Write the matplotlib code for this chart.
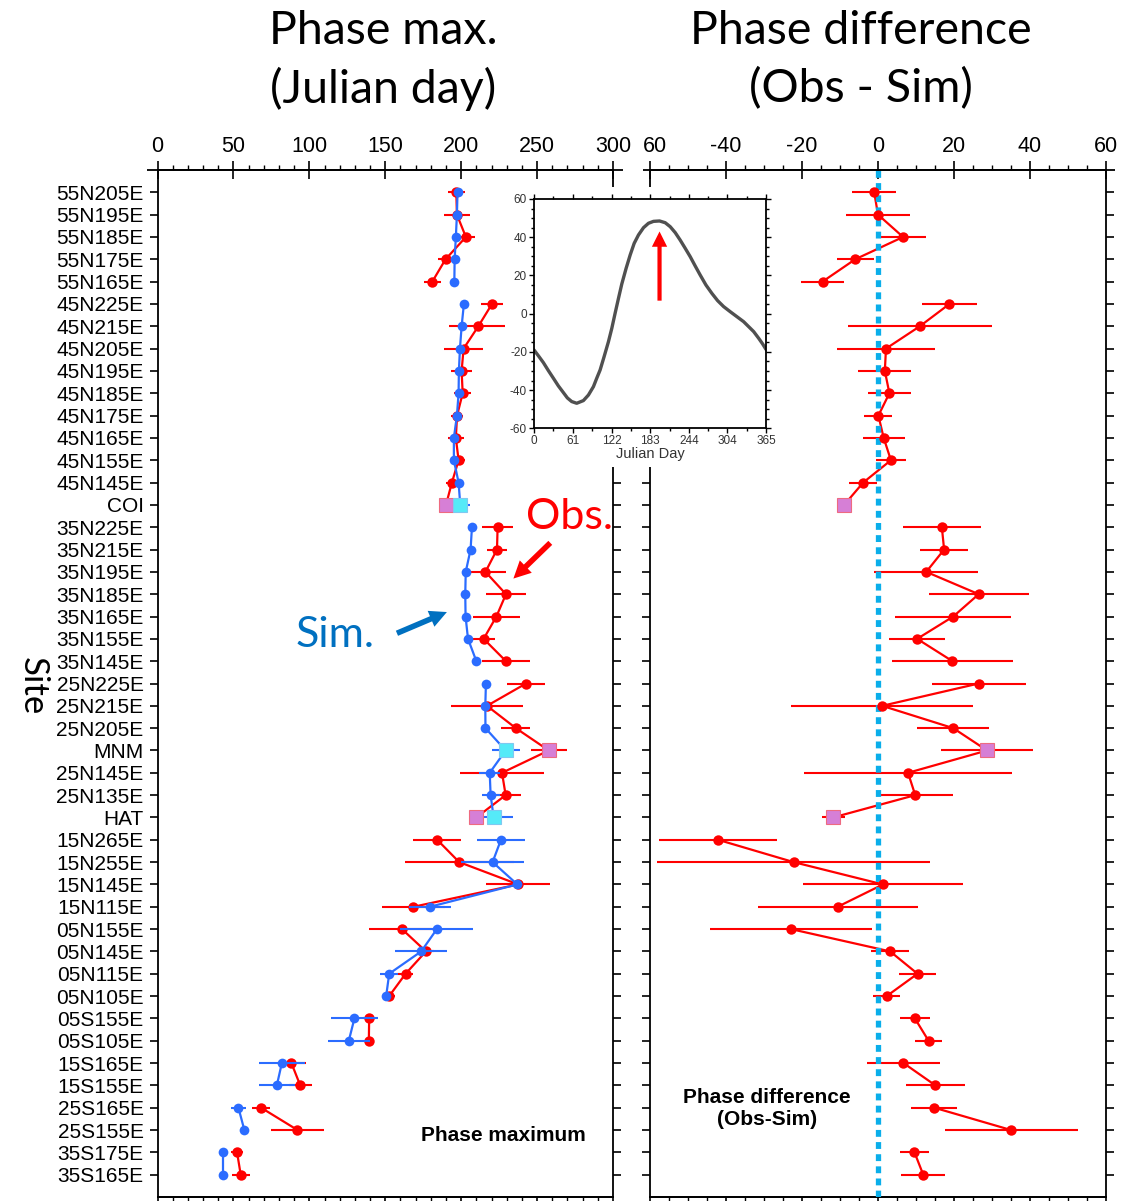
import matplotlib
matplotlib.use('Agg')
import matplotlib.pyplot as plt
import numpy as np
from matplotlib.patches import Rectangle
from matplotlib.ticker import MultipleLocator, FixedLocator, FixedFormatter, NullFormatter

plt.rcParams['axes.unicode_minus'] = False
plt.rcParams['font.family'] = ['Liberation Sans', 'DejaVu Sans']

# ---------------- data ----------------
sites = ['55N205E', '55N195E', '55N185E', '55N175E', '55N165E',
         '45N225E', '45N215E', '45N205E', '45N195E', '45N185E', '45N175E',
         '45N165E', '45N155E', '45N145E', 'COI',
         '35N225E', '35N215E', '35N195E', '35N185E', '35N165E', '35N155E', '35N145E',
         '25N225E', '25N215E', '25N205E', 'MNM', '25N145E', '25N135E', 'HAT',
         '15N265E', '15N255E', '15N145E', '15N115E',
         '05N155E', '05N145E', '05N115E', '05N105E',
         '05S155E', '05S105E', '15S165E', '15S155E',
         '25S165E', '25S155E', '35S175E', '35S165E']

# latitude band each site belongs to (points of one band are joined by lines)
band = ['55N'] * 5 + ['45N'] * 10 + ['35N'] * 7 + ['25N'] * 7 + ['15N'] * 4 + \
       ['05N'] * 4 + ['05S'] * 2 + ['15S'] * 2 + ['25S'] * 2 + ['35S'] * 2

square_sites = ['COI', 'MNM', 'HAT']

# simulated phase maximum (Julian day) and its spread
sim_day = [197.6, 197.2, 196.5, 195.7, 195.5,
           201.8, 200.3, 199.2, 198.5, 198.3, 197.2, 195.2, 195.2, 198.3, 199.4,
           207.1, 206.2, 203.0, 202.7, 202.9, 204.5, 210.0,
           216.3, 215.9, 216.0, 229.3, 218.8, 219.4, 221.4,
           226.2, 220.7, 237.0, 179.4,
           184.0, 173.7, 152.6, 150.6,
           129.7, 126.0, 81.9, 78.6,
           53.3, 57.2, 43.0, 43.0]
sim_err = [0, 0, 0, 0, 0,
           0, 0, 0, 0, 0, 0, 0, 0, 0, 6.6,
           0, 0, 0, 0, 0, 0, 0,
           0, 0, 0, 9.3, 7.0, 6.0, 12.5,
           16.0, 20.5, 0, 14.0,
           24.0, 17.0, 6.0, 0,
           15.5, 13.8, 15.0, 12.0,
           4.7, 0, 0, 0]

# observed phase maximum (Julian day) and its spread
obs_day = [196.8, 197.2, 203.1, 189.7, 181.0,
           220.3, 211.3, 201.6, 200.3, 201.0, 197.3, 196.5, 198.3, 193.9, 190.0,
           224.0, 223.6, 216.0, 229.5, 223.2, 214.8, 229.5,
           242.7, 217.0, 236.0, 257.7, 226.9, 229.3, 210.0,
           184.2, 198.7, 237.6, 168.6,
           161.0, 176.8, 163.4, 152.6,
           139.4, 139.2, 88.2, 94.0,
           68.2, 92.2, 52.4, 54.8]
obs_err = [5.8, 8.3, 5.9, 4.9, 5.6,
           7.3, 19.0, 12.9, 7.0, 5.7, 3.7, 5.5, 4.0, 3.7, 1.5,
           10.2, 6.4, 13.7, 13.2, 15.3, 7.3, 15.9,
           12.4, 24.0, 9.5, 12.0, 27.4, 10.0, 3.0,
           15.6, 36.0, 21.0, 21.0,
           21.4, 5.0, 4.8, 3.6,
           3.9, 3.5, 9.7, 7.7,
           6.0, 17.5, 3.8, 5.8]

# phase difference Obs - Sim (days)
diff_day = [-1.0, 0.0, 6.6, -6.0, -14.6,
            18.8, 11.0, 2.1, 1.8, 3.0, 0.1, 1.5, 3.4, -3.9, -8.9,
            16.8, 17.4, 12.7, 26.5, 19.8, 10.3, 19.6,
            26.5, 1.1, 19.8, 28.7, 7.9, 9.8, -11.8,
            -42.1, -22.2, 1.3, -10.6,
            -22.9, 3.2, 10.4, 2.3,
            9.7, 13.3, 6.7, 15.1,
            14.8, 35.0, 9.6, 11.9]

# inset: seasonal cycle
inset_day = [0, 6.8, 14.7, 22.6, 30.5, 38.3, 46.2, 52.5, 59.3, 67.2, 77.7, 85.6,
             93.5, 98.7, 104.0, 110.3, 117.1, 122.4, 127.6, 132.9, 138.1, 144.9,
             151.3, 157.6, 164.4, 172.3, 180.1, 188.0, 197.5, 206.4, 214.3, 222.2,
             230.0, 237.9, 245.8, 253.7, 261.5, 270.5, 279.9, 288.9, 298.3, 308.8,
             319.3, 329.8, 337.7, 345.6, 353.5, 359.8, 365.0]
inset_val = [-19.0, -22.0, -25.6, -29.8, -33.8, -37.8, -41.3, -44.1, -46.0, -46.9,
             -45.5, -42.6, -38.2, -33.8, -29.5, -22.5, -14.7, -7.7, 0.2, 8.0, 15.5,
             23.7, 30.7, 36.8, 41.2, 45.0, 47.3, 48.3, 48.5, 47.6, 45.5, 42.4, 38.5,
             34.2, 29.8, 24.9, 20.2, 15.0, 10.6, 6.8, 3.7, 1.0, -1.6, -4.2, -6.8,
             -9.4, -12.9, -15.9, -18.7]
inset_xticks = [0, 61, 122, 183, 244, 304, 365]

# ---------------- style ----------------
RED = '#FF0000'
BLUE = '#2B6CFF'
CYAN = '#55EAF8'
PINK = '#D67FD6'
ZERO = '#0AAEEA'
SIMTXT = '#0070C0'
W, H = 1145, 1201

sim_day = np.array(sim_day); sim_err = np.array(sim_err)
obs_day = np.array(obs_day); obs_err = np.array(obs_err)
diff_day = np.array(diff_day)
band = np.array(band)
y = np.arange(len(sites))
is_sq = np.array([s in square_sites for s in sites])

fig = plt.figure(figsize=(W / 100, H / 100), dpi=100)
fig.patch.set_facecolor('white')

def fx(px):
    return px / W

def fy(py):
    return 1 - py / H

top_px, bot_px = 170, 1197
axL = fig.add_axes([fx(157.5), fy(bot_px), fx(613 - 157.5), (bot_px - top_px) / H])
axR = fig.add_axes([fx(650), fy(bot_px), fx(1106 - 650), (bot_px - top_px) / H])

bands_order = list(dict.fromkeys(band))

def style_axis(ax, xlim, major, minor, labels, ext):
    ax.set_xlim(*xlim)
    ax.set_ylim(45.0, -1.0)
    for sp in ax.spines.values():
        sp.set_linewidth(1.3)
    ax.xaxis.tick_top()
    ax.xaxis.set_major_locator(FixedLocator(major))
    ax.xaxis.set_major_formatter(FixedFormatter(labels))
    ax.xaxis.set_minor_locator(MultipleLocator(minor))
    ax.tick_params(axis='x', which='major', direction='inout', length=13, width=1.2,
                   top=True, bottom=False, labeltop=True, labelbottom=False,
                   labelsize=15.5, pad=3)
    ax.tick_params(axis='x', which='minor', direction='out', length=3.6, width=1.0,
                   top=True, bottom=False)
    # top axis line reaching slightly past the frame
    ax.plot(ext, [1, 1], transform=ax.transAxes, color='black', lw=1.3,
            clip_on=False, solid_capstyle='butt', zorder=10)
    sec = ax.secondary_xaxis('bottom')
    sec.xaxis.set_major_locator(FixedLocator(major))
    sec.xaxis.set_minor_locator(MultipleLocator(minor))
    sec.xaxis.set_major_formatter(NullFormatter())
    sec.tick_params(which='major', direction='out', length=5, width=1.2)
    sec.tick_params(which='minor', direction='out', length=3.6, width=1.0)
    sec.spines['bottom'].set_linewidth(1.3)
    ax.set_yticks(y)
    ax.tick_params(axis='y', which='major', direction='out', length=6, width=1.2,
                   left=True, right=True)

# ---------------- left panel ----------------
style_axis(axL, (0, 300), list(range(0, 301, 50)), 10,
           [str(v) for v in range(0, 301, 50)], [-0.023, 1.022])
axL.set_yticklabels(sites, fontsize=15)
axL.tick_params(axis='y', pad=4)

# observations (red)
axL.errorbar(obs_day, y, xerr=obs_err, fmt='none', ecolor=RED, elinewidth=1.5,
             capsize=0, zorder=2)
for b in bands_order:
    m = band == b
    axL.plot(obs_day[m], y[m], color=RED, lw=1.6, zorder=3)
axL.plot(obs_day[~is_sq], y[~is_sq], 'o', color=RED, ms=7.5, mew=0, zorder=4)
axL.plot(obs_day[is_sq], y[is_sq], 's', mfc=PINK, mec='#EE6A80', mew=0.8, ms=10.5,
         zorder=7)

# simulation (blue)
ms_ = sim_err > 0
axL.errorbar(sim_day[ms_], y[ms_], xerr=sim_err[ms_], fmt='none', ecolor=BLUE,
             elinewidth=1.5, capsize=0, zorder=4.5)
for b in bands_order:
    m = band == b
    axL.plot(sim_day[m], y[m], color=BLUE, lw=1.6, zorder=5)
axL.plot(sim_day[~is_sq], y[~is_sq], 'o', color=BLUE, ms=7, mew=0, zorder=6)
axL.plot(sim_day[is_sq], y[is_sq], 's', mfc=CYAN, mec='#7FC8F0', mew=0.8, ms=10.5,
         zorder=8)

axL.text(0.94, 0.060, 'Phase maximum', transform=axL.transAxes, ha='right',
         va='center', fontsize=15, fontweight='bold')

# annotations Sim./Obs.
TF = ['Lato', 'DejaVu Sans']
axL.text(117, 19.85, 'Sim.', color=SIMTXT, fontsize=31, family=TF,
         ha='center', va='center')
axL.annotate('', xy=(190.6, 18.8), xytext=(157.7, 19.75),
             arrowprops=dict(arrowstyle='simple,head_length=0.62,head_width=0.62,tail_width=0.2',
                             fc=SIMTXT, ec='none', lw=0, mutation_scale=20,
                             shrinkA=0, shrinkB=0), annotation_clip=False)
axL.text(271.5, 14.55, 'Obs.', color=RED, fontsize=31, family=TF,
         ha='center', va='center', clip_on=False)
axL.annotate('', xy=(234.4, 17.3), xytext=(258.7, 15.7),
             arrowprops=dict(arrowstyle='simple,head_length=0.62,head_width=0.62,tail_width=0.2',
                             fc=RED, ec='none', lw=0, mutation_scale=20,
                             shrinkA=0, shrinkB=0), annotation_clip=False)

# ---------------- right panel ----------------
style_axis(axR, (-60, 60), list(range(-60, 61, 20)), 5,
           ['', '-40', '-20', '0', '20', '40', '60'], [-0.015, 1.02])
axR.set_yticklabels([])

axR.axvline(0, color=ZERO, lw=3.8, ls=(0, (1.3, 1.0)), dash_capstyle='butt', zorder=3.5)
axR.errorbar(diff_day, y, xerr=obs_err, fmt='none', ecolor=RED, elinewidth=1.5,
             capsize=0, zorder=2)
for b in bands_order:
    m = band == b
    axR.plot(diff_day[m], y[m], color=RED, lw=1.6, zorder=3)
axR.plot(diff_day[~is_sq], y[~is_sq], 'o', color=RED, ms=7.5, mew=0, zorder=4)
axR.plot(diff_day[is_sq], y[is_sq], 's', mfc=PINK, mec='#EE6A80', mew=0.8, ms=10.5,
         zorder=7)
axR.text(0.2566, 0.0862, 'Phase difference\n(Obs-Sim)', transform=axR.transAxes,
         ha='center', va='center', fontsize=15, fontweight='bold', linespacing=1.25)

# "-60" label of the right panel: its minus sign is hidden behind the left "300"
fig.text(fx(667), fy(152), '60', ha='right', va='baseline', fontsize=15.5)

# ---------------- titles ----------------
fig.text(fx(383), fy(31), 'Phase max.', ha='center', va='center', fontsize=33.5, family=TF)
fig.text(fx(383), fy(89), '(Julian day)', ha='center', va='center', fontsize=33.5, family=TF)
fig.text(fx(861), fy(31), 'Phase difference', ha='center', va='center', fontsize=33.5, family=TF)
fig.text(fx(861), fy(89), '(Obs - Sim)', ha='center', va='center', fontsize=33.5, family=TF)
fig.text(fx(33), fy(686), 'Site', ha='center', va='center', fontsize=25, rotation=270,
         family=TF)

# ---------------- inset ----------------
fig.add_artist(Rectangle((fx(505), fy(467)), fx(790 - 505), (467 - 187) / H,
                         transform=fig.transFigure, facecolor='white',
                         edgecolor='none', zorder=4))
axI = fig.add_axes([fx(534), fy(428.3), fx(766 - 534), (428.3 - 199) / H], zorder=5)
axI.plot(inset_day, inset_val, color='#505050', lw=2.4, solid_capstyle='round',
         solid_joinstyle='round')
axI.set_xlim(0, 365)
axI.set_ylim(-60, 60)
axI.set_xticks(inset_xticks)
axI.set_xticks([(a + b) / 2 for a, b in zip(inset_xticks[:-1], inset_xticks[1:])],
               minor=True)
axI.yaxis.set_major_locator(MultipleLocator(20))
axI.yaxis.set_minor_locator(MultipleLocator(5))
axI.tick_params(which='both', direction='out', top=True, right=True, width=1.0,
                labelsize=8.5, labelcolor='#333333', pad=1.5)
axI.tick_params(which='major', length=3.5)
axI.tick_params(which='minor', length=2.5)
for sp in axI.spines.values():
    sp.set_linewidth(1.3)
axI.set_xlabel('Julian Day', fontsize=10.5, color='#333333', labelpad=0)
axI.annotate('', xy=(197.5, 43.0), xytext=(197.5, 6.8),
             arrowprops=dict(arrowstyle='simple,head_length=0.55,head_width=0.55,tail_width=0.15',
                             fc=RED, ec='none', lw=0, mutation_scale=20,
                             shrinkA=0, shrinkB=0))

fig.savefig('out.png', dpi=100, facecolor='white')
